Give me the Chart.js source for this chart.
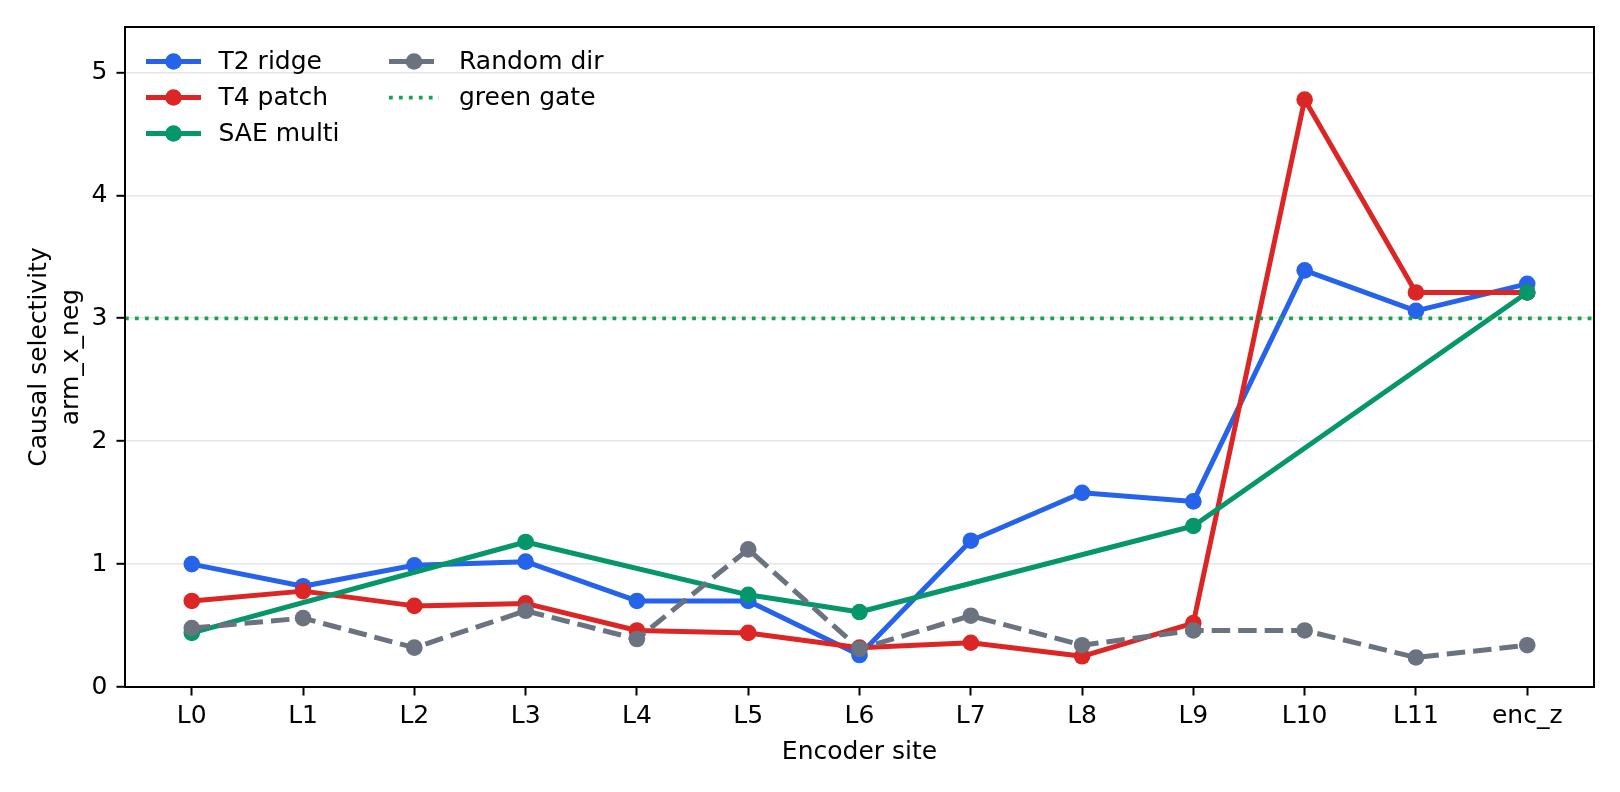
<!DOCTYPE html>
<html>
<head>
<meta charset="utf-8">
<script src="https://cdn.jsdelivr.net/npm/chart.js@4.4.1/dist/chart.umd.min.js"></script>
<style>
html,body{margin:0;padding:0;background:#ffffff;}
#wrap{width:1620px;height:792px;position:relative;}
</style>
</head>
<body>
<div id="wrap"><canvas id="c" width="1620" height="792"></canvas></div>
<script>
// ---- data ----
const categories = ['L0','L1','L2','L3','L4','L5','L6','L7','L8','L9','L10','L11','enc_z'];
const t2Ridge   = [1.00, 0.82, 0.99, 1.02, 0.70, 0.70, 0.26, 1.19, 1.58, 1.51, 3.39, 3.06, 3.28];
const t4Patch   = [0.70, 0.78, 0.66, 0.68, 0.46, 0.44, 0.32, 0.36, 0.25, 0.52, 4.78, 3.21, 3.21];
const saeMulti  = [0.44, null, null, 1.18, null, 0.75, 0.61, null, null, 1.31, null, null, 3.21];
const randomDir = [0.48, 0.56, 0.32, 0.62, 0.39, 1.12, 0.31, 0.58, 0.34, 0.46, 0.46, 0.24, 0.34];
const gateValue = 3;
const gateLabel = 'green gate';
const yTickValues = [0, 1, 2, 3, 4, 5];
const yMax = 5.37;
const xMargin = 0.6;

// ---- styles ----
const FONT = 'DejaVu Sans';
const TICK_SIZE = 25;
const LEGEND_SIZE = 25;
const LW = 5;
const MR = 8.3;
const gateStyle = {color: '#16a34a', width: 3.75, dash: [3.75, 6.2]};

const toPoints = arr => arr.map((v, i) => ({x: i, y: v}));

function series(label, values, color, order, extra) {
  return Object.assign({
    label: label,
    data: toPoints(values),
    borderColor: color,
    backgroundColor: color,
    borderWidth: LW,
    pointRadius: MR,
    pointHoverRadius: MR,
    pointBorderWidth: 0,
    pointBackgroundColor: color,
    tension: 0,
    order: order,
    borderCapStyle: 'butt',
    borderJoinStyle: 'round'
  }, extra || {});
}

const gatePlugin = {
  id: 'gateLine',
  afterDatasetsDraw(chart) {
    const {ctx, chartArea} = chart;
    const y = chart.scales.y.getPixelForValue(gateValue);
    ctx.save();
    ctx.strokeStyle = gateStyle.color;
    ctx.lineWidth = gateStyle.width;
    ctx.setLineDash(gateStyle.dash);
    ctx.beginPath();
    ctx.moveTo(chartArea.left, y);
    ctx.lineTo(chartArea.right, y);
    ctx.stroke();
    ctx.restore();
  }
};

const framePlugin = {
  id: 'frame',
  afterDatasetsDraw(chart) {
    const {ctx, chartArea: a} = chart;
    ctx.save();
    ctx.strokeStyle = '#000';
    ctx.lineWidth = 2;
    ctx.setLineDash([]);
    ctx.strokeRect(a.left, a.top, a.right - a.left, a.bottom - a.top);
    ctx.restore();
  }
};

const legendPlugin = {
  id: 'mplLegend',
  afterDraw(chart) {
    const {ctx, chartArea: a} = chart;
    const items = chart.data.datasets.map(ds => ({
      label: ds.label, color: ds.borderColor, dash: ds.borderDash || [], width: ds.borderWidth, marker: true
    }));
    items.push({label: gateLabel, color: gateStyle.color, dash: gateStyle.dash, width: gateStyle.width, marker: false});
    const rows = 3, x0 = a.left + 23.5, y0 = a.top + 34.5, rowGap = 36, colGap = 240.5, handleLen = 50, textOff = 70;
    ctx.save();
    ctx.font = LEGEND_SIZE + 'px "' + FONT + '"';
    ctx.textBaseline = 'middle';
    ctx.textAlign = 'left';
    items.forEach((it, k) => {
      const col = Math.floor(k / rows), row = k % rows;
      const x = x0 + col * colGap, y = y0 + row * rowGap;
      ctx.strokeStyle = it.color;
      ctx.lineWidth = it.width;
      ctx.setLineDash(it.dash);
      ctx.lineCap = (it.dash.length || !it.marker) ? 'butt' : 'square';
      ctx.beginPath();
      ctx.moveTo(x, y);
      ctx.lineTo(x + handleLen, y);
      ctx.stroke();
      ctx.setLineDash([]);
      if (it.marker) {
        ctx.fillStyle = it.color;
        ctx.beginPath();
        ctx.arc(x + handleLen / 2, y, MR, 0, Math.PI * 2);
        ctx.fill();
      }
      ctx.fillStyle = '#000';
      ctx.fillText(it.label, x + textOff, y + 1);
    });
    ctx.restore();
  }
};

new Chart(document.getElementById('c'), {
  type: 'line',
  data: {
    datasets: [
      series('T2 ridge', t2Ridge, '#2563eb', 4),
      series('T4 patch', t4Patch, '#dc2626', 3),
      series('SAE multi', saeMulti, '#059669', 2, {spanGaps: true}),
      series('Random dir', randomDir, '#6b7280', 1, {borderDash: [18.5, 8]})
    ]
  },
  options: {
    responsive: false,
    animation: false,
    devicePixelRatio: 1,
    layout: {padding: {left: 0, right: 26, top: 27, bottom: 0}},
    plugins: {legend: {display: false}, tooltip: {enabled: false}},
    scales: {
      x: {
        type: 'linear',
        min: -xMargin,
        max: categories.length - 1 + xMargin,
        afterBuildTicks: s => { s.ticks = categories.map((_, i) => ({value: i})); },
        afterFit: s => { s.height = 105; },
        border: {display: false},
        grid: {display: true, drawOnChartArea: false, drawTicks: true, tickLength: 8.5, tickWidth: 2, tickColor: '#000'},
        ticks: {
          autoSkip: false, maxRotation: 0, padding: 5.5, color: '#000',
          font: {family: FONT, size: TICK_SIZE, lineHeight: 1.2},
          callback: v => categories[v]
        },
        title: {display: true, text: 'Encoder site', color: '#000',
          font: {family: FONT, size: TICK_SIZE, lineHeight: 1.2}, padding: {top: 0, bottom: 25}}
      },
      y: {
        type: 'linear',
        min: 0,
        max: yMax,
        afterBuildTicks: s => { s.ticks = yTickValues.map(v => ({value: v})); },
        afterFit: s => { s.width = 125; },
        border: {display: false},
        grid: {color: '#e5e5ea', lineWidth: 1.6, drawTicks: true, tickLength: 8.5, tickWidth: 2, tickColor: '#000'},
        ticks: {padding: 9, color: '#000', font: {family: FONT, size: TICK_SIZE}, callback: v => String(v)},
        title: {display: true, text: ['Causal selectivity', 'arm_x_neg'], color: '#000',
          font: {family: FONT, size: TICK_SIZE, lineHeight: '32px'}, padding: {top: 23, bottom: 0}}
      }
    }
  },
  plugins: [gatePlugin, framePlugin, legendPlugin]
});
</script>
</body>
</html>
